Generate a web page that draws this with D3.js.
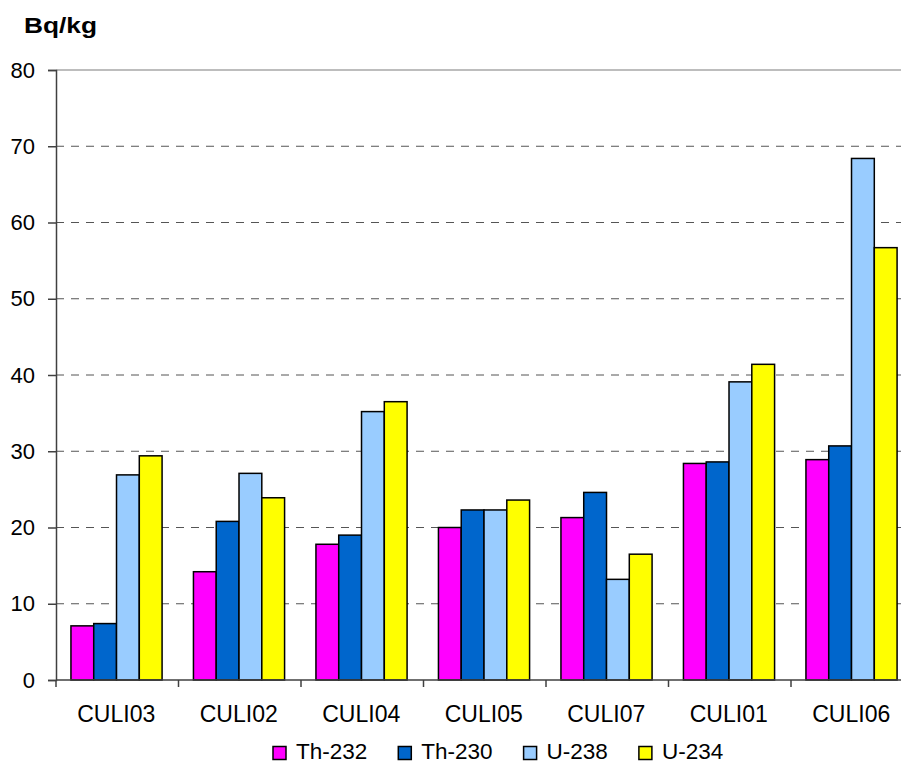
<!DOCTYPE html>
<html>
<head>
<meta charset="utf-8">
<script src="https://cdn.jsdelivr.net/npm/d3@7"></script>
<style>
  html, body { margin: 0; padding: 0; background: #fff; }
  svg { display: block; font-family: "Liberation Sans", Arial, sans-serif; }
</style>
</head>
<body>
<svg id="chart" width="901" height="762"></svg>
<script>
const categories = ["CULI03", "CULI02", "CULI04", "CULI05", "CULI07", "CULI01", "CULI06"];
const seriesNames = ["Th-232", "Th-230", "U-238", "U-234"];
const th232 = [7.1, 14.2, 17.8, 20.0, 21.3, 28.4, 28.9];
const th230 = [7.4, 20.8, 19.0, 22.3, 24.6, 28.6, 30.7];
const u238  = [26.9, 27.1, 35.2, 22.3, 13.2, 39.1, 68.4];
const u234  = [29.4, 23.9, 36.5, 23.6, 16.5, 41.4, 56.7];
const yTicks = [0, 10, 20, 30, 40, 50, 60, 70, 80];
const unitLabel = "Bq/kg";

const seriesValues = [th232, th230, u238, u234];
const colors = ["#FF00FF", "#0066CC", "#99CCFF", "#FFFF00"];

const svg = d3.select("#chart");
const pLeft = 56, pRight = 913.5, pTop = 70, pBottom = 680;

const x = d3.scaleBand().domain(categories).range([pLeft, pRight]).paddingInner(0).paddingOuter(0);
const bw = x.bandwidth();
const xs = d3.scaleBand().domain(seriesNames).range([bw * 0.122, bw * 0.866]).padding(0);
const y = d3.scaleLinear().domain([0, 80]).range([pBottom, pTop]);

// gridlines
svg.append("g").selectAll("line")
  .data(yTicks.filter(t => t > 0 && t < 80))
  .join("line")
  .attr("x1", pLeft).attr("x2", 901)
  .attr("y1", d => y(d)).attr("y2", d => y(d))
  .attr("stroke", "#555").attr("stroke-width", 1)
  .attr("stroke-dasharray", "8,7");
// top border
svg.append("line")
  .attr("x1", pLeft).attr("x2", 901)
  .attr("y1", y(80)).attr("y2", y(80))
  .attr("stroke", "#bdbdbd").attr("stroke-width", 2);

// bars
const rows = categories.map((c, i) => ({ c, vals: seriesValues.map((s, j) => ({ s: seriesNames[j], v: s[i], j })) }));
svg.append("g").selectAll("g")
  .data(rows).join("g")
  .attr("transform", d => `translate(${x(d.c)},0)`)
  .selectAll("rect")
  .data(d => d.vals).join("rect")
  .attr("x", d => xs(d.s))
  .attr("width", xs.bandwidth())
  .attr("y", d => y(d.v))
  .attr("height", d => y(0) - y(d.v))
  .attr("fill", d => colors[d.j])
  .attr("stroke", "#000").attr("stroke-width", 1.5);

// y axis
const yAxis = d3.axisLeft(y).tickValues(yTicks).tickSize(8).tickPadding(13).tickFormat(d3.format("d"));
const gy = svg.append("g").attr("transform", `translate(${pLeft},0)`).call(yAxis);
gy.select(".domain").attr("stroke", "#404040").attr("stroke-width", 1.5);
gy.selectAll(".tick line").attr("stroke", "#404040").attr("stroke-width", 1.5);
gy.selectAll(".tick text").attr("font-size", 22).attr("fill", "#000")
  .attr("font-family", "'Liberation Sans', Arial, sans-serif");

// x axis
svg.append("line").attr("x1", pLeft).attr("x2", 901).attr("y1", pBottom).attr("y2", pBottom)
  .attr("stroke", "#404040").attr("stroke-width", 1.5);
svg.append("g").selectAll("line")
  .data(categories.slice(1).map(c => x(c)).concat([pLeft]))
  .join("line")
  .attr("x1", d => d).attr("x2", d => d)
  .attr("y1", pBottom).attr("y2", pBottom + 7)
  .attr("stroke", "#404040").attr("stroke-width", 1.5);
svg.append("g").selectAll("text")
  .data(categories).join("text")
  .attr("x", d => x(d) + bw / 2 - 1)
  .attr("y", 722)
  .attr("text-anchor", "middle")
  .attr("font-size", 23)
  .text(d => d);

// unit label
svg.append("text").attr("x", 24).attr("y", 33)
  .attr("font-size", 22).attr("font-weight", "bold")
  .attr("textLength", 73).attr("lengthAdjust", "spacingAndGlyphs")
  .text(unitLabel);

// legend
const lg = svg.append("g");
let lx = 273;
seriesNames.forEach((n, i) => {
  lg.append("rect").attr("x", lx).attr("y", 746.5).attr("width", 13).attr("height", 13)
    .attr("fill", colors[i]).attr("stroke", "#000").attr("stroke-width", 1.5);
  const t = lg.append("text").attr("x", lx + 23).attr("y", 758.5).attr("font-size", 22.5).text(n);
  lx += 23 + t.node().getComputedTextLength() + 31;
});
</script>
</body>
</html>
